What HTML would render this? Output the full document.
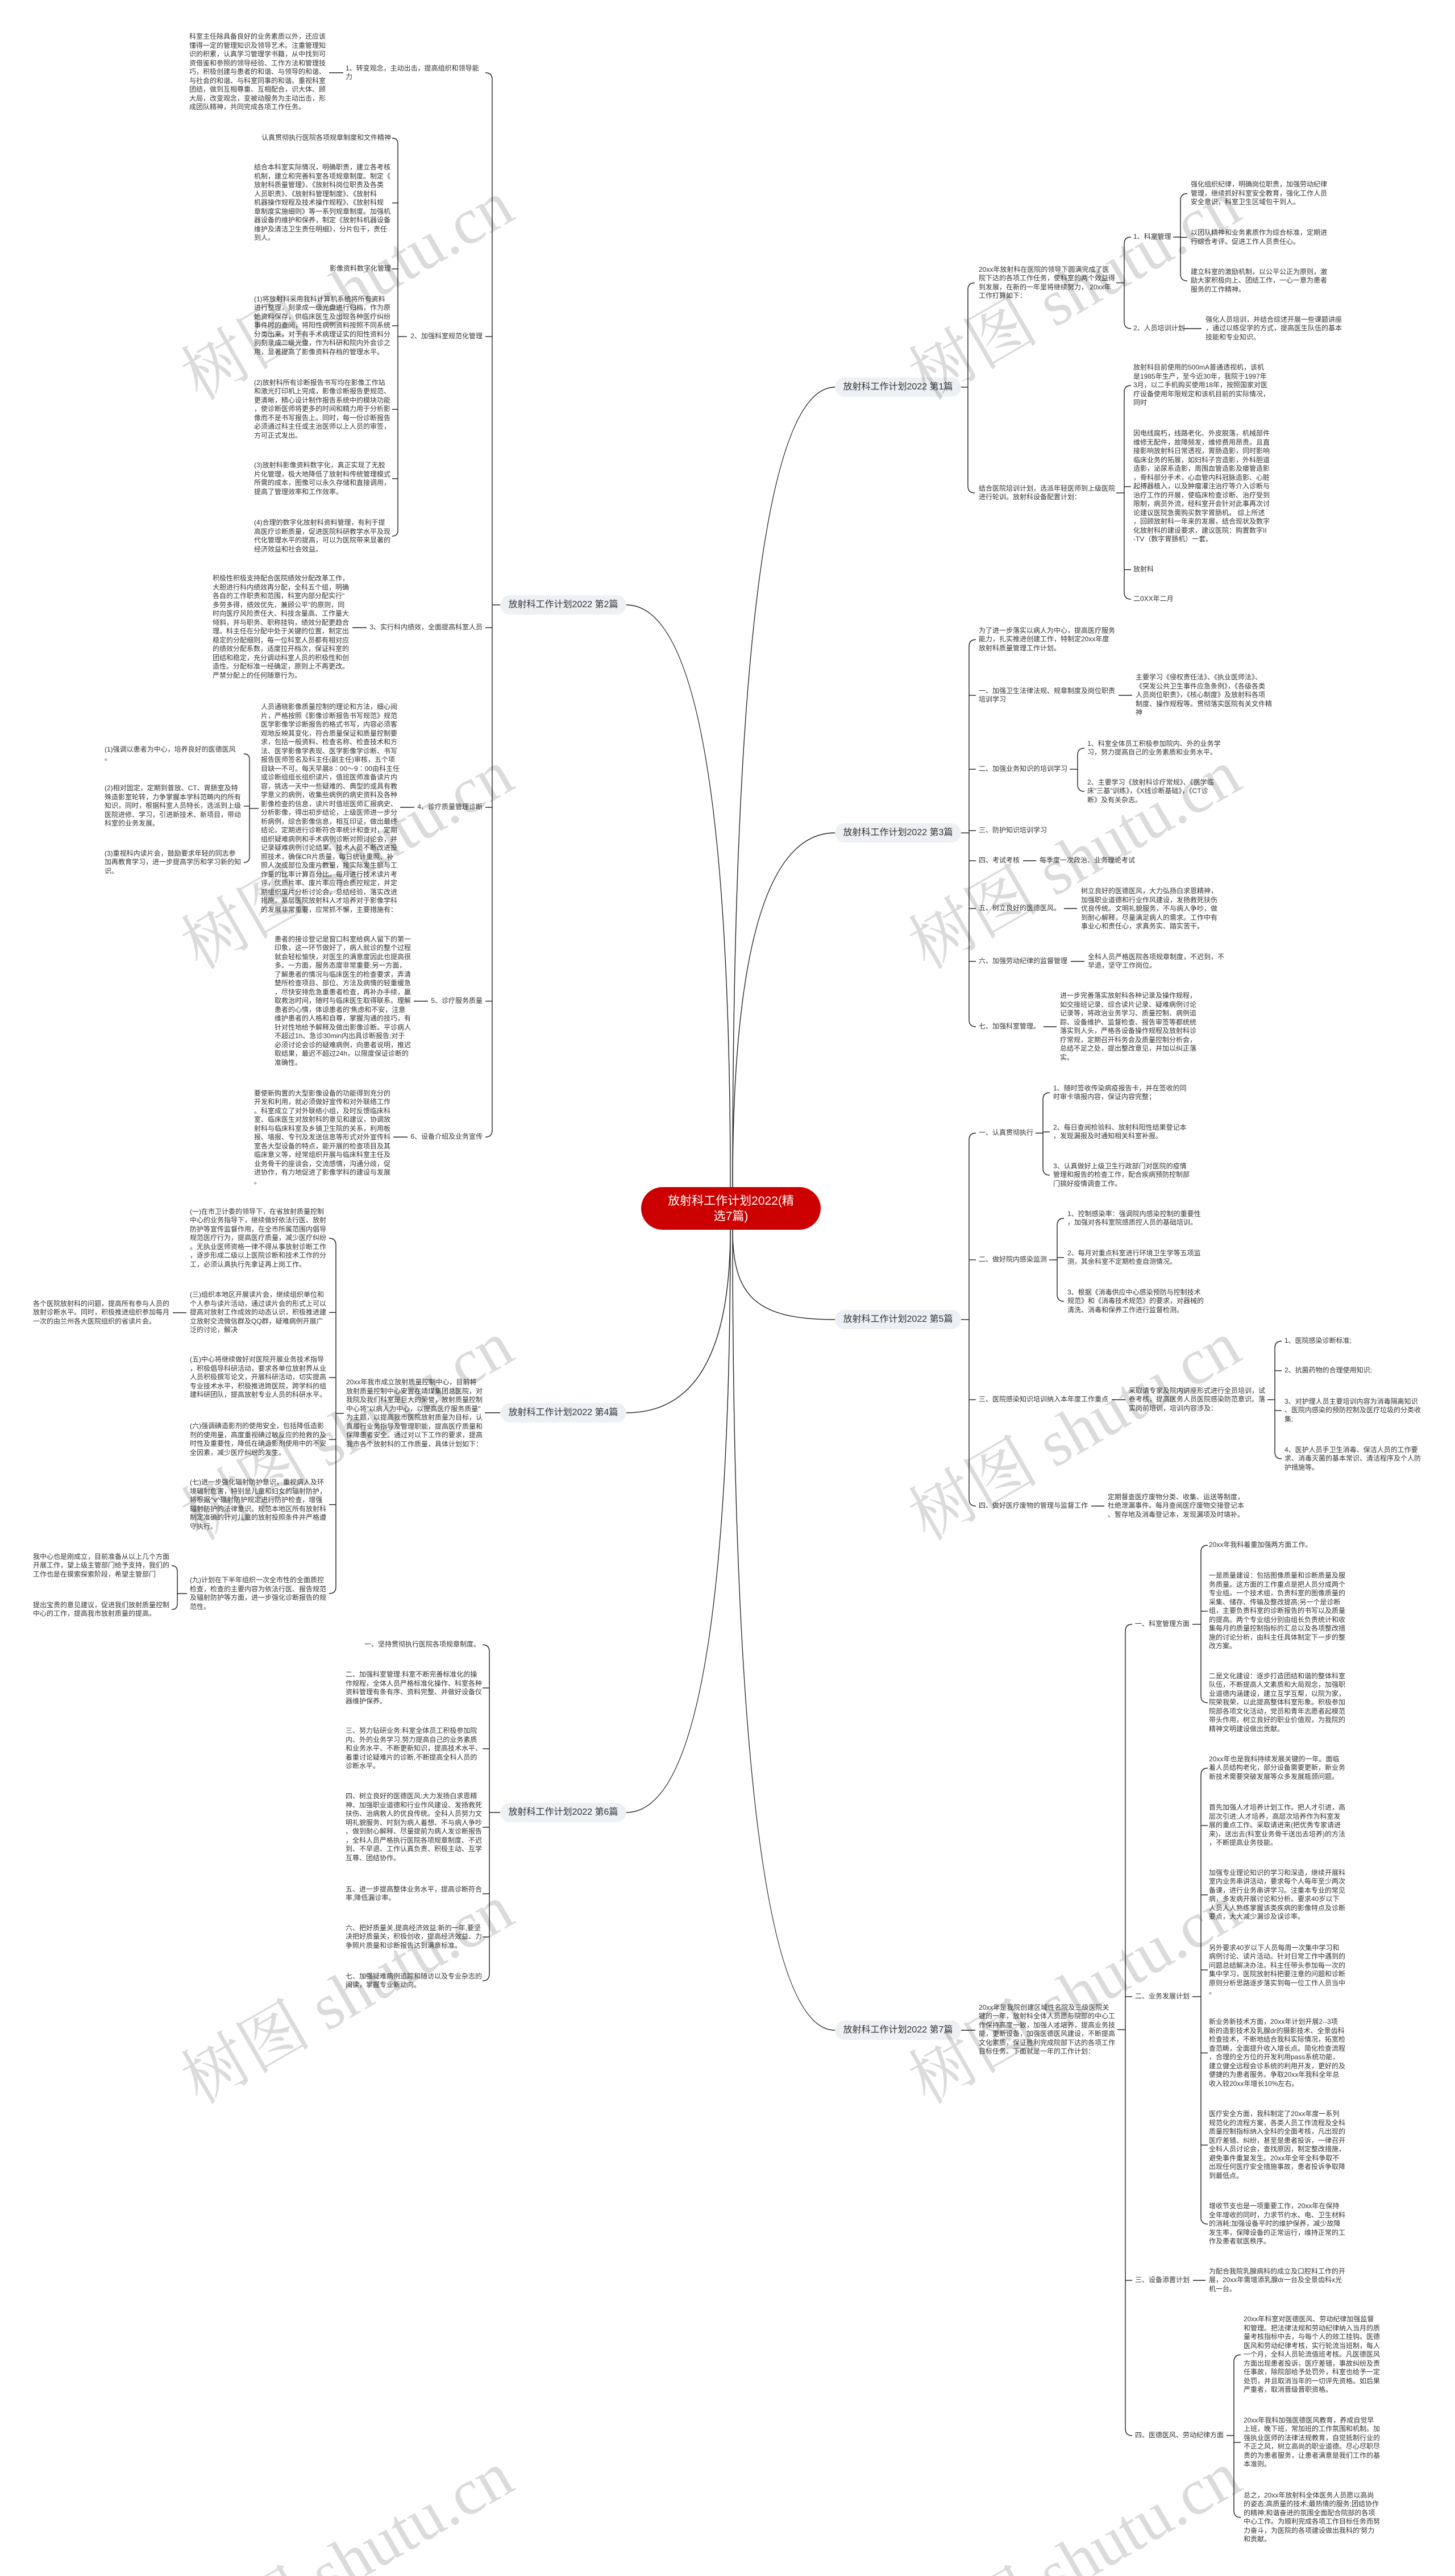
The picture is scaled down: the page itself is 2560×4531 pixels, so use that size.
<!DOCTYPE html>
<html><head><meta charset="utf-8"><style>
body{margin:0;background:#fff}
#c{position:relative;width:2560px;height:4531px;overflow:hidden;background:#fff;font-family:"Liberation Sans","Noto Sans CJK SC",sans-serif;color:#333}
.t{position:absolute;font-size:12px;line-height:15.5px;white-space:nowrap;color:#333}
.r{text-align:right}
.n{position:absolute;width:222px;height:34px;line-height:34px;border-radius:17px;background:#edf0f4;font-size:16px;text-align:center;white-space:nowrap;color:#333}
.root{position:absolute;left:1128px;top:2088px;width:316px;height:75px;border-radius:38px;background:#cc0000;color:#fff;font-size:21px;line-height:27px;text-align:center;display:flex;align-items:center;justify-content:center}
svg{position:absolute;left:0;top:0}
</style></head><body><div id="c">
<svg width="2560" height="4531" viewBox="0 0 2560 4531" fill="none" stroke="#222" stroke-width="1.4">
<!-- trunks -->
<path d="M1289 2088 Q1289 681 1469 681"/>
<path d="M1285 2088 Q1285 1064 1102 1064"/>
<path d="M1289 2088 Q1289 1465 1469 1465"/>
<path d="M1285 2163 Q1285 2485 1102 2485"/>
<path d="M1289 2163 C1289 2280 1330 2321 1469 2321"/>
<path d="M1285 2163 Q1285 3188 1102 3188"/>
<path d="M1289 2163 Q1289 3571 1469 3571"/>
<!-- 第1篇 -->
<path d="M1691 681 H1703"/>
<path d="M1715 497.5 Q1703 497.5 1703 509.5 V855 Q1703 867 1715 867"/>
<path d="M1964 497.5 H1978"/>
<path d="M1990 417 Q1978 417 1978 429 V566 Q1978 578 1990 578"/>
<path d="M2064 417 H2077"/>
<path d="M2089 340.5 Q2077 340.5 2077 352.5 V482 Q2077 494 2089 494"/>
<path d="M2077 417.5 H2089"/>
<path d="M2082 578 H2114"/>
<path d="M1964 867 H1978"/>
<path d="M1990 678 Q1978 678 1978 690 V1042 Q1978 1054 1990 1054"/>
<path d="M1978 856 H1990"/><path d="M1978 1002 H1990"/>
<!-- 第3篇 -->
<path d="M1691 1465 H1705"/>
<path d="M1717 1125 Q1705 1125 1705 1137 V1794 Q1705 1806 1717 1806"/>
<path d="M1705 1223 H1717"/><path d="M1705 1353 H1717"/><path d="M1705 1461 H1717"/><path d="M1705 1514 H1717"/><path d="M1705 1598 H1717"/><path d="M1705 1691 H1717"/>
<path d="M1968 1223 H1992"/>
<path d="M1882 1353 H1896"/>
<path d="M1908 1316 Q1896 1316 1896 1328 V1380 Q1896 1392 1908 1392"/>
<path d="M1800 1514 H1823"/>
<path d="M1872 1598 H1895"/>
<path d="M1884 1691 H1908"/>
<path d="M1836 1806 H1859"/>
<!-- 第5篇 -->
<path d="M1691 2321 H1705"/>
<path d="M1717 1993 Q1705 1993 1705 2005 V2637 Q1705 2649 1717 2649"/>
<path d="M1705 2216 H1717"/><path d="M1705 2462 H1717"/>
<path d="M1822 1993 H1835"/>
<path d="M1847 1922 Q1835 1922 1835 1934 V2055 Q1835 2067 1847 2067"/>
<path d="M1835 1991 H1847"/>
<path d="M1846 2216 H1860"/>
<path d="M1872 2143 Q1860 2143 1860 2155 V2277 Q1860 2289 1872 2289"/>
<path d="M1860 2212 H1872"/>
<path d="M1956 2462 H1980"/>
<path d="M2230 2462 H2243"/>
<path d="M2255 2359 Q2243 2359 2243 2371 V2554 Q2243 2566 2255 2566"/>
<path d="M2243 2411 H2255"/><path d="M2243 2481 H2255"/>
<path d="M1920 2649 H1943"/>
<!-- 第7篇 -->
<path d="M1691 3571 H1716"/>
<path d="M1966 3570 H1980"/>
<path d="M1992 2857 Q1980 2857 1980 2869 V4272 Q1980 4284 1992 4284"/>
<path d="M1980 3512 H1992"/><path d="M1980 4011 H1992"/>
<path d="M2098 2857 H2113"/>
<path d="M2125 2718 Q2113 2718 2113 2730 V2983 Q2113 2995 2125 2995"/>
<path d="M2113 2834 H2125"/>
<path d="M2098 3512 H2113"/>
<path d="M2125 3110 Q2113 3110 2113 3122 V3900 Q2113 3912 2125 3912"/>
<path d="M2113 3211 H2125"/><path d="M2113 3333 H2125"/><path d="M2113 3465 H2125"/><path d="M2113 3611 H2125"/><path d="M2113 3773 H2125"/>
<path d="M2099 4011 H2121"/>
<path d="M2158 4284 H2171"/>
<path d="M2183 4142 Q2171 4142 2171 4154 V4416 Q2171 4428 2183 4428"/>
<path d="M2171 4296 H2183"/>
<!-- 第2篇 -->
<path d="M880 1064 H866"/>
<path d="M854 128 Q866 128 866 140 V1988 Q866 2000 854 2000"/>
<path d="M866 592 H854"/><path d="M866 1104 H854"/><path d="M866 1420 H854"/><path d="M866 1761 H854"/>
<path d="M604 128 H579"/>
<path d="M716 592 H700"/>
<path d="M690 243 Q700 243 700 253 V933 Q700 943 690 943"/>
<path d="M700 357 H690"/><path d="M700 473 H690"/><path d="M700 573 H690"/><path d="M700 720 H690"/><path d="M700 842 H690"/>
<path d="M645 1104 H620"/>
<path d="M729 1420 H704"/>
<path d="M455 1422 H439"/>
<path d="M429 1326 Q439 1326 439 1336 V1507 Q439 1517 429 1517"/>
<path d="M439 1418 H429"/>
<path d="M753 1761 H728"/>
<path d="M717 2000 H692"/>
<!-- 第4篇 -->
<path d="M880 2485 H853"/>
<path d="M605 2486 H591"/>
<path d="M579 2178 Q591 2178 591 2190 V2791 Q591 2803 579 2803"/>
<path d="M591 2308.5 H579"/><path d="M591 2423 H579"/><path d="M591 2532 H579"/><path d="M591 2646.5 H579"/>
<path d="M328 2309 H304"/>
<path d="M329 2803 H312"/>
<path d="M302 2754 Q312 2754 312 2764 V2821 Q312 2831 302 2831"/>
<!-- 第6篇 -->
<path d="M880 3188 H861"/>
<path d="M849 2893 Q861 2893 861 2905 V3472 Q861 3484 849 3484"/>
<path d="M861 2969 H849"/><path d="M861 3076 H849"/><path d="M861 3214 H849"/><path d="M861 3331 H849"/><path d="M861 3407 H849"/>
</svg>

<div class="root"><div>放射科工作计划2022(精<br>选7篇)</div></div>

<div class="n" style="left:1469px;top:664px">放射科工作计划2022 第1篇</div>
<div class="n" style="left:880px;top:1047px">放射科工作计划2022 第2篇</div>
<div class="n" style="left:1469px;top:1448px">放射科工作计划2022 第3篇</div>
<div class="n" style="left:880px;top:2468px">放射科工作计划2022 第4篇</div>
<div class="n" style="left:1469px;top:2304px">放射科工作计划2022 第5篇</div>
<div class="n" style="left:880px;top:3171px">放射科工作计划2022 第6篇</div>
<div class="n" style="left:1469px;top:3554px">放射科工作计划2022 第7篇</div>

<!-- 第1篇 -->
<div class="t" style="left:1722px;top:466.5px">20xx年放射科在医院的领导下圆满完成了医<br>院下达的各项工作任务，使科室的两个效益得<br>到发展，在新的一年里将继续努力， 20xx年<br>工作打算如下：</div>
<div class="t" style="left:1994px;top:409.25px">1、科室管理</div>
<div class="t" style="left:1994px;top:570.25px">2、人员培训计划</div>
<div class="t" style="left:2095px;top:317.25px">强化组织纪律，明确岗位职责，加强劳动纪律<br>管理，继续抓好科室安全教育，强化工作人员<br>安全意识，科室卫生区域包干到人。</div>
<div class="t" style="left:2095px;top:402px">以团队精神和业务素质作为综合标准，定期进<br>行综合考评。促进工作人员责任心。</div>
<div class="t" style="left:2095px;top:470.75px">建立科室的激励机制，以公平公正为原则，激<br>励大家积极向上、团结工作，一心一意为患者<br>服务的工作精神。</div>
<div class="t" style="left:2121px;top:554.75px">强化人员培训，并结合综述开展一些课题讲座<br>，通过以练促学的方式，提高医生队伍的基本<br>技能和专业知识。</div>
<div class="t" style="left:1722px;top:851.5px">结合医院培训计划，选派年轻医师到上级医院<br>进行轮训。放射科设备配置计划：</div>
<div class="t" style="left:1994px;top:639.25px">放射科目前使用的500mA普通透视机，该机<br>是1985年生产，至今近30年，我院于1997年<br>3月，以二手机购买使用18年，按照国家对医<br>疗设备使用年限规定和该机目前的实际情况，<br>同时</div>
<div class="t" style="left:1994px;top:755.25px">因电线腐朽，线路老化、外皮脱落，机械部件<br>维修无配件，故障频发，维修费用昂贵。且直<br>接影响放射科日常透视，胃肠造影，同时影响<br>临床业务的拓展，如妇科子宫造影，外科胆道<br>造影，泌尿系造影，周围血管造影及瘘管造影<br>，骨科部分手术，心血管内科冠脉造影、心脏<br>起搏器植入，以及肿瘤灌注治疗等介入诊断与<br>治疗工作的开展，使临床检查诊断、治疗受到<br>限制，病员外流，经科室开会针对此事再次讨<br>论建议医院急需购买数字胃肠机。 综上所述<br>，回顾放射科一年来的发展，结合现状及数字<br>化放射科的建设要求，建议医院：购置数字II<br>-TV（数字胃肠机）一套。</div>
<div class="t" style="left:1994px;top:994.25px">放射科</div>
<div class="t" style="left:1994px;top:1046.25px">二0XX年二月</div>

<!-- 第3篇 -->
<div class="t" style="left:1722px;top:1101.75px">为了进一步落实以病人为中心，提高医疗服务<br>能力，扎实推进创建工作，特制定20xx年度<br>放射科质量管理工作计划。</div>
<div class="t" style="left:1722px;top:1207.5px">一、加强卫生法律法规、规章制度及岗位职责<br>培训学习</div>
<div class="t" style="left:1998px;top:1184.25px">主要学习《侵权责任法》、《执业医师法》、<br>《突发公共卫生事件应急条例》，《各级各类<br>人员岗位职责》，《核心制度》及放射科各项<br>制度、操作规程等。贯彻落实医院有关文件精<br>神</div>
<div class="t" style="left:1722px;top:1345.25px">二、加强业务知识的培训学习</div>
<div class="t" style="left:1913px;top:1300.5px">1、科室全体员工积极参加院内、外的业务学<br>习，努力提高自己的业务素质和业务水平。</div>
<div class="t" style="left:1913px;top:1368.75px">2、主要学习《放射科诊疗常规》、《医学临<br>床"三基"训练》，《X线诊断基础》，《CT诊<br>断》及有关杂志。</div>
<div class="t" style="left:1722px;top:1453.25px">三、防护知识培训学习</div>
<div class="t" style="left:1722px;top:1506.25px">四、考试考核</div>
<div class="t" style="left:1829px;top:1506.25px">每季度一次政治、业务理论考试</div>
<div class="t" style="left:1722px;top:1590.25px">五、树立良好的医德医风。</div>
<div class="t" style="left:1902px;top:1560.25px">树立良好的医德医风，大力弘扬白求恩精神，<br>加强职业道德和行业作风建设，发扬救死扶伤<br>优良传统。文明礼貌服务，不与病人争吵，做<br>到耐心解释，尽量满足病人的需求。工作中有<br>事业心和责任心，求真务实、踏实苦干。</div>
<div class="t" style="left:1722px;top:1683.25px">六、加强劳动纪律的监督管理</div>
<div class="t" style="left:1914px;top:1675.5px">全科人员严格医院各项规章制度，不迟到，不<br>早退，坚守工作岗位。</div>
<div class="t" style="left:1722px;top:1798.25px">七、加强科室管理。</div>
<div class="t" style="left:1865px;top:1744px">进一步完善落实放射科各种记录及操作规程，<br>如交接班记录、综合读片记录、疑难病例讨论<br>记录等，将政治业务学习、质量控制、病例追<br>踪、设备维护、监督检查、报告审签等都统统<br>落实到人头，严格各设备操作规程及放射科诊<br>疗常规，定期召开科务会及质量控制分析会，<br>总结不足之处，提出整改意见，并加以纠正落<br>实。</div>

<!-- 第5篇 -->
<div class="t" style="left:1722px;top:1985.25px">一、认真贯彻执行</div>
<div class="t" style="left:1853px;top:1906.5px">1、随时签收传染病疫报告卡，并在签收的同<br>时审卡填报内容，保证内容完整；</div>
<div class="t" style="left:1853px;top:1975.5px">2、每日查阅检验科、放射科阳性结果登记本<br>，发现漏报及时通知相关科室补报。</div>
<div class="t" style="left:1853px;top:2043.75px">3、认真做好上级卫生行政部门对医院的疫情<br>管理和报告的检查工作，配合疾病预防控制部<br>门搞好疫情调查工作。</div>
<div class="t" style="left:1722px;top:2208.25px">二、做好院内感染监测</div>
<div class="t" style="left:1878px;top:2127.5px">1、控制感染率：强调院内感染控制的重要性<br>，加强对各科室院感质控人员的基础培训。</div>
<div class="t" style="left:1878px;top:2196.5px">2、每月对重点科室进行环境卫生学等五项监<br>测，其余科室不定期检查自测情况。</div>
<div class="t" style="left:1878px;top:2265.75px">3、根据《消毒供应中心感染预防与控制技术<br>规范》和《消毒技术规范》的要求，对器械的<br>清洗、消毒和保养工作进行监督检测。</div>
<div class="t" style="left:1722px;top:2454.25px">三、医院感染知识培训纳入本年度工作重点</div>
<div class="t" style="left:1986px;top:2438.75px">采取请专家及院内讲座形式进行全员培训，试<br>卷考核，提高医务人员医院感染防范意识。落<br>实岗前培训，培训内容涉及：</div>
<div class="t" style="left:2260px;top:2351.25px">1、医院感染诊断标准;</div>
<div class="t" style="left:2260px;top:2403.25px">2、抗菌药物的合理使用知识;</div>
<div class="t" style="left:2260px;top:2457.75px">3、对护理人员主要培训内容为消毒隔离知识<br>、医院内感染的预防控制及医疗垃圾的分类收<br>集;</div>
<div class="t" style="left:2260px;top:2542.75px">4、医护人员手卫生消毒、保洁人员的工作要<br>求、消毒灭菌的基本常识、清洁程序及个人防<br>护措施等。</div>
<div class="t" style="left:1722px;top:2641.25px">四、做好医疗废物的管理与监督工作</div>
<div class="t" style="left:1949px;top:2625.75px">定期督查医疗废物分类、收集、运送等制度，<br>杜绝泄漏事件。每月查阅医疗废物交接登记本<br>、暂存地及消毒登记本，发现漏项及时填补。</div>

<!-- 第7篇 -->
<div class="t" style="left:1722px;top:3523.5px">20xx年是我院创建区域性名院及三级医院关<br>键的一年，放射科全体人员愿与院部的中心工<br>作保持高度一致，加强人才培养，提高业务技<br>能，更新设备，加强医德医风建设，不断提高<br>文化素质，保证胜利完成院部下达的各项工作<br>目标任务。下面就是一年的工作计划：</div>
<div class="t" style="left:1997px;top:2849.25px">一、科室管理方面</div>
<div class="t" style="left:2127px;top:2710.25px">20xx年我科着重加强两方面工作。</div>
<div class="t" style="left:2127px;top:2764.25px">一是质量建设：包括图像质量和诊断质量及服<br>务质量。这方面的工作重点是把人员分成两个<br>专业组。一个技术组，负责科室的图像质量的<br>采集、储存、传输及整改提高;另一个是诊断<br>组，主要负责科室的诊断报告的书写以及质量<br>的提高。两个专业组分别由组长负责统计和收<br>集每月的质量控制指标的汇总以及各项整改措<br>施的讨论分析，由科主任具体制定下一步的整<br>改方案。</div>
<div class="t" style="left:2127px;top:2940.75px">二是文化建设：逐步打造团结和谐的整体科室<br>队伍，不断提高人文素质和大局观念，加强职<br>业道德内涵建设，建立互学互帮，以院为家，<br>院荣我荣，以此提高整体科室形象。积极参加<br>院部各项文化活动，党员和青年志愿者起模范<br>带头作用，树立良好的职业价值观，为我院的<br>精神文明建设做出贡献。</div>
<div class="t" style="left:1997px;top:3504.25px">二、业务发展计划</div>
<div class="t" style="left:2127px;top:3086.75px">20xx年也是我科持续发展关键的一年。面临<br>着人员结构老化，部分设备需要更新，新业务<br>新技术需要突破发展等众多发展瓶颈问题。</div>
<div class="t" style="left:2127px;top:3172.25px">首先加强人才培养计划工作。把人才引进，高<br>层次引进;人才培养，高层次培养作为科室发<br>展的重点工作。采取请进来(把优秀专家请进<br>来)，送出去(科室业务骨干送出去培养)的方法<br>，不断提高业务技能。</div>
<div class="t" style="left:2127px;top:3286.5px">加强专业理论知识的学习和深造，继续开展科<br>室内业务串讲活动，要求每个人每年至少两次<br>备课，进行业务串讲学习。注重本专业的常见<br>病，多发病开展讨论和分析。要求40岁以下<br>人员人人熟练掌握该类疾病的影像特点及诊断<br>要点，大大减少漏诊及误诊率。</div>
<div class="t" style="left:2127px;top:3418.5px">另外要求40岁以下人员每周一次集中学习和<br>病例讨论、读片活动。针对日常工作中遇到的<br>问题总结解决办法。科主任带头参加每一次的<br>集中学习，医院放射科把要注意的问题和诊断<br>原则分析思路逐步落实到每一位工作人员当中<br>。</div>
<div class="t" style="left:2127px;top:3549px">新业务新技术方面，20xx年计划开展2--3项<br>新的造影技术及乳腺dr的摄影技术、全景齿科<br>检查技术，不断地结合我科实际情况，拓宽检<br>查范畴，全面提升收入增长点。简化检查流程<br>，合理的全方位的开发利用pass系统功能，<br>建立健全远程会诊系统的利用开发，更好的及<br>便捷的为患者服务。争取20xx年我科全年总<br>收入较20xx年增长10%左右。</div>
<div class="t" style="left:2127px;top:3711px">医疗安全方面，我科制定了20xx年度一系列<br>规范化的流程方案，各类人员工作流程及全科<br>质量控制指标纳入全科的全面考核，凡出现的<br>医疗差错、纠纷，甚至是患者投诉，一律召开<br>全科人员讨论会，查找原因，制定整改措施，<br>避免事件重复发生。20xx年全年全科争取不<br>出现任何医疗安全措施事故，患者投诉争取降<br>到最低点。</div>
<div class="t" style="left:2127px;top:3873.25px">增收节支也是一项重要工作，20xx年在保持<br>全年增收的同时，力求节约水、电、卫生材料<br>的消耗;加强设备平时的维护保养，减少故障<br>发生率，保障设备的正常运行，维持正常的工<br>作及患者就医秩序。</div>
<div class="t" style="left:1997px;top:4003.25px">三、设备添置计划</div>
<div class="t" style="left:2127px;top:3987.75px">为配合我院乳腺病科的成立及口腔科工作的开<br>展，20xx年需增添乳腺dr一台及全景齿科x光<br>机一台。</div>
<div class="t" style="left:1997px;top:4276.25px">四、医德医风、劳动纪律方面</div>
<div class="t" style="left:2188px;top:4072.25px">20xx年科室对医德医风、劳动纪律加强监督<br>和管理。把法律法规和劳动纪律纳入当月的质<br>量考核指标中去，与每个人的效工挂钩。医德<br>医风和劳动纪律考核，实行轮流当班制，每人<br>一个月，全科人员轮流值班考核。凡医德医风<br>方面出现患者投诉，医疗差错，事故纠纷及责<br>任事故，除院部给予处罚外，科室也给予一定<br>处罚，并且取消当年的一切评先资格。如后果<br>严重者，取消晋级晋职资格。</div>
<div class="t" style="left:2188px;top:4249.5px">20xx年我科加强医德医风教育，养成自觉早<br>上班，晚下班，常加班的工作氛围和机制。加<br>强执业医师的法律法规教育，自觉抵制行业的<br>不正之风，树立高尚的职业道德。尽心尽职尽<br>责的为患者服务，让患者满意是我们工作的基<br>本准则。</div>
<div class="t" style="left:2188px;top:4381.5px">总之，20xx年放射科全体医务人员愿以高尚<br>的姿态;高质量的技术;最热情的服务;团结协作<br>的精神;和谐奋进的氛围全面配合院部的各项<br>中心工作。为顺利完成各项工作目标任务而努<br>力奋斗，为医院的各项建设做出我科的'努力<br>和贡献。</div>

<!-- 第2篇 -->
<div class="t" style="left:608px;top:112.5px">1、转变观念，主动出击，提高组织和领导能<br>力</div>
<div class="t" style="left:333px;top:57.25px">科室主任除具备良好的业务素质以外，还应该<br>懂得一定的管理知识及领导艺术。注重管理知<br>识的积累，认真学习管理学书籍，从中找到可<br>资借鉴和参照的领导经验、工作方法和管理技<br>巧，积极创建与患者的和谐、与领导的和谐、<br>与社会的和谐、与科室同事的和谐。重视科室<br>团结，做到互相尊重、互相配合，识大体、顾<br>大局，改变观念，变被动服务为主动出击，形<br>成团队精神，共同完成各项工作任务。</div>
<div class="t r" style="right:1711px;top:584.25px">2、加强科室规范化管理</div>
<div class="t r" style="right:1872px;top:235.25px">认真贯彻执行医院各项规章制度和文件精神</div>
<div class="t" style="left:447px;top:287.25px">结合本科室实际情况，明确职责，建立各考核<br>机制，建立和完善科室各项规章制度。制定《<br>放射科质量管理》、《放射科岗位职责及各类<br>人员职责》、《放射科管理制度》、《放射科<br>机器操作规程及技术操作规程》、《放射科规<br>章制度实施细则》等一系列规章制度。加强机<br>器设备的维护和保养，制定《放射科机器设备<br>维护及清洁卫生责任明细》，分片包干，责任<br>到人。</div>
<div class="t r" style="right:1872px;top:465.25px">影像资料数字化管理</div>
<div class="t" style="left:447px;top:518.75px">(1)将放射科采用我科计算机系统将所有资料<br>进行整理，刻录成一级光盘进行归档，作为原<br>始资料保存，供临床医生及出现各种医疗纠纷<br>事件时的查阅，将阳性病例资料按照不同系统<br>分类出来，对于有手术病理证实的阳性资料分<br>别刻录成二级光盘，作为科研和院内外会诊之<br>用，显著提高了影像资料存档的管理水平。</div>
<div class="t" style="left:447px;top:665.75px">(2)放射科所有诊断报告书写均在影像工作站<br>和激光打印机上完成，影像诊断报告更规范、<br>更清晰，精心设计制作报告系统中的模块功能<br>，使诊断医师将更多的时间和精力用于分析影<br>像而不是书写报告上。同时，每一份诊断报告<br>必须通过科主任或主治医师以上人员的审签，<br>方可正式发出。</div>
<div class="t" style="left:447px;top:811px">(3)放射科影像资料数字化，真正实现了无胶<br>片化管理，极大地降低了放射科传统管理模式<br>所需的成本，图像可以永久存储和直接调用，<br>提高了管理效率和工作效率。</div>
<div class="t" style="left:447px;top:912px">(4)合理的数字化放射科资料管理，有利于提<br>高医疗诊断质量，促进医院科研教学水平及现<br>代化管理水平的提高，可以为医院带来显著的<br>经济效益和社会效益。</div>
<div class="t r" style="right:1711px;top:1096.25px">3、实行科内绩效，全面提高科室人员</div>
<div class="t" style="left:374px;top:1010px">积极性积极支持配合医院绩效分配改革工作，<br>大胆进行科内绩效再分配，全科五个组，明确<br>各自的工作职责和范围，科室内部分配实行"<br>多劳多得，绩效优先，兼顾公平"的原则，同<br>时向医疗风险责任大、科技含量高、工作量大<br>倾斜，并与职务、职称挂钩，绩效分配更趋合<br>理。科主任在分配中处于关键的位置，制定出<br>稳定的分配细则，每一位科室人员都有相对应<br>的绩效分配系数，适度拉开档次，保证科室的<br>团结和稳定，充分调动科室人员的积极性和创<br>造性。分配标准一经确定，原则上不再更改。<br>严禁分配上的任何随意行为。</div>
<div class="t r" style="right:1711px;top:1412.25px">4、诊疗质量管理诊断</div>
<div class="t" style="left:459px;top:1236px">人员通晓影像质量控制的理论和方法，细心阅<br>片，严格按照《影像诊断报告书写规范》规范<br>医学影像学诊断报告的格式书写，内容必须客<br>观地反映其变化，符合质量保证和质量控制要<br>求，包括一般资料、检查名称、检查技术和方<br>法、医学影像学表现、医学影像学诊断、书写<br>报告医师签名及科主任(副主任)审核，五个项<br>目缺一不可。每天早晨8∶00～9∶00由科主任<br>或诊断组组长组织读片，值班医师准备读片内<br>容，挑选一天中一些疑难的、典型的或具有教<br>学意义的病例，收集些病例的病史资料及各种<br>影像检查的信息，读片时值班医师汇报病史、<br>分析影像，得出初步结论，上级医师进一步分<br>析病例，综合影像信息，相互印证，做出最终<br>结论。定期进行诊断符合率统计和查对，定期<br>组织疑难病例和手术病例诊断对照讨论会，并<br>记录疑难病例讨论结果。技术人员不断改进投<br>照技术，确保CR片质量，每日统计重照、补<br>照人次或部位及废片数量，按实际发生额与工<br>作量的比率计算百分比。每月进行技术读片考<br>评，优质片率、废片率应符合质控规定，并定<br>期组织废片分析讨论会，总结经验，落实改进<br>措施。基层医院放射科人才培养对于影像学科<br>的发展非常重要，应常抓不懈，主要措施有：</div>
<div class="t" style="left:184px;top:1310.5px">(1)强调以患者为中心，培养良好的医德医风<br>。</div>
<div class="t" style="left:184px;top:1379.25px">(2)相对固定，定期到普放、CT、胃肠室及特<br>殊造影室轮转，力争掌握本学科范畴内的所有<br>知识，同时，根据科室人员特长，选派到上级<br>医院进修、学习，引进新技术、新项目，带动<br>科室的业务发展。</div>
<div class="t" style="left:184px;top:1493.75px">(3)重视科内读片会，鼓励要求年轻的同志参<br>加再教育学习，进一步提高学历和学习新的知<br>识。</div>
<div class="t r" style="right:1711px;top:1753.25px">5、诊疗服务质量</div>
<div class="t" style="left:483px;top:1644.75px">患者的接诊登记是窗口科室给病人留下的第一<br>印象，这一环节做好了，病人就诊的整个过程<br>就会轻松愉快，对医生的满意度因此也提高很<br>多。一方面，服务态度非常重要;另一方面，<br>了解患者的情况与临床医生的检查要求，弄清<br>楚所检查项目、部位、方法及病情的轻重缓急<br>，尽快安排危急重患者检查，再补办手续，赢<br>取救治时间，随时与临床医生取得联系。理解<br>患者的心情，体谅患者的'焦虑和不安，注意<br>维护患者的人格和自尊，掌握沟通的技巧，有<br>针对性地给予解释及做出影像诊断。平诊病人<br>不超过1h、急诊30min内出具诊断报告;对于<br>必须讨论会诊的疑难病例，向患者说明，推迟<br>取结果，最迟不超过24h，以限度保证诊断的<br>准确性。</div>
<div class="t r" style="right:1711px;top:1992.25px">6、设备介绍及业务宣传</div>
<div class="t" style="left:447px;top:1915.75px">要使新购置的大型影像设备的功能得到充分的<br>开发和利用，就必须做好宣传和对外联络工作<br>。科室成立了对外联络小组，及时反馈临床科<br>室、临床医生对放射科的意见和建议，协调放<br>射科与临床科室及乡镇卫生院的关系，利用板<br>报、墙报、专刊及发送信息等形式对外宣传科<br>室各大型设备的特点，能开展的检查项目及其<br>临床意义等，经常组织开展与临床科室主任及<br>业务骨干的座谈会，交流感情，沟通分歧，促<br>进协作，有力地促进了影像学科的建设与发展<br>。</div>

<!-- 第4篇 -->
<div class="t" style="left:609px;top:2424px">20xx年我市成立放射质量控制中心，目前将<br>放射质量控制中心安置在靖煤集团总医院，对<br>我院及我们科室是巨大的荣誉，放射质量控制<br>中心将"以病人为中心，以提高医疗服务质量"<br>为主题，以提高我市医院放射质量为目标，认<br>真履行业务指导及管理职能，提高医疗质量和<br>保障患者安全。通过对以下工作的要求，提高<br>我市各个放射科的工作质量，具体计划如下：</div>
<div class="t" style="left:334px;top:2123.75px">(一)在市卫计委的领导下，在省放射质量控制<br>中心的业务指导下，继续做好依法行医、放射<br>防护等宣传监督作用，在全市所属范围内倡导<br>规范医疗行为，提高医疗质量，减少医疗纠纷<br>。无执业医师资格一律不得从事放射诊断工作<br>，逐步形成二级以上医院诊断和技术工作的分<br>工，必须认真执行先拿证再上岗工作。</div>
<div class="t" style="left:334px;top:2270.25px">(三)组织本地区开展读片会，继续组织单位和<br>个人参与读片活动，通过读片会的形式上可以<br>提高对放射工作成效的动态认识，积极推进建<br>立放射交流微信群及QQ群，疑难病例开展广<br>泛的讨论，解决</div>
<div class="t" style="left:58px;top:2285.75px">各个医院放射科的问题，提高所有参与人员的<br>放射诊断水平。同时，积极推进组织参加每月<br>一次的由兰州各大医院组织的省读片会。</div>
<div class="t" style="left:334px;top:2384.25px">(五)中心将继续做好对医院开展业务技术指导<br>，积极倡导科研活动，要求各单位放射界从业<br>人员积极撰写论文，开展科研活动，切实提高<br>专业技术水平，积极推进跨医院，跨学科的组<br>建科研团队，提高放射专业人员的科研水平。</div>
<div class="t" style="left:334px;top:2501px">(六)强调碘造影剂的使用安全，包括降低造影<br>剂的使用量，高度重视碘过敏反应的抢救的及<br>时性及重要性，降低在碘造影剂使用中的不安<br>全因素，减少医疗纠纷的发生。</div>
<div class="t" style="left:334px;top:2600px">(七)进一步强化辐射防护意识，重视病人及环<br>境辐射危害，特别是儿童和妇女的辐射防护，<br>将根据^v^辐射防护规定进行防护检查，增强<br>辐射防护的法律意识。规范本地区所有放射科<br>制定准确的针对儿童的放射投照条件并严格遵<br>守执行。</div>
<div class="t" style="left:334px;top:2772px">(九)计划在下半年组织一次全市性的全面质控<br>检查，检查的主要内容为依法行医、报告规范<br>及辐射防护等方面，进一步强化诊断报告的规<br>范性。</div>
<div class="t" style="left:58px;top:2730.75px">我中心也是刚成立，目前准备从以上几个方面<br>开展工作，望上级主管部门给予支持，我们的<br>工作也是在摸索探索阶段，希望主管部门</div>
<div class="t" style="left:58px;top:2815.5px">提出宝贵的意见建议，促进我们放射质量控制<br>中心的工作，提高我市放射质量的提高。</div>

<!-- 第6篇 -->
<div class="t r" style="right:1715px;top:2885.25px">一、坚持贯彻执行医院各项规章制度。</div>
<div class="t" style="left:608px;top:2938px">二、加强科室管理:科室不断完善标准化的操<br>作规程，全体人员严格标准化操作、科室各种<br>资料管理有条有序、资料完整、并做好设备仪<br>器维护保养。</div>
<div class="t" style="left:608px;top:3037.25px">三、努力钻研业务:科室全体员工积极参加院<br>内、外的业务学习,努力提高自己的业务素质<br>和业务水平、不断更新知识，提高技术水平、<br>着重讨论疑难片的诊断,不断提高全科人员的<br>诊断水平。</div>
<div class="t" style="left:608px;top:3152px">四、树立良好的医德医风:大力发扬白求恩精<br>神、加强职业道德和行业作风建设、发扬救死<br>扶伤、治病救人的优良传统。全科人员努力文<br>明礼貌服务、时刻为病人着想、不与病人争吵<br>、做到耐心解释、尽量提前为病人发诊断报告<br>，全科人员严格执行医院各项规章制度、不迟<br>到、不早退、工作认真负责、积极主动、互学<br>互尊、团结协作。</div>
<div class="t" style="left:608px;top:3315.5px">五、进一步提高整体业务水平，提高诊断符合<br>率,降低漏诊率。</div>
<div class="t" style="left:608px;top:3383.75px">六、把好质量关,提高经济效益:新的一年,要坚<br>决把好质量关，积极创收，提高经济效益、力<br>争照片质量和诊断报告达到满意标准。</div>
<div class="t" style="left:608px;top:3468.5px">七、加强疑难病例追踪和随访以及专业杂志的<br>阅读，掌握专业新动向。</div>

<svg width="2560" height="4531" viewBox="0 0 2560 4531" style="pointer-events:none">
<g fill="#000" fill-opacity="0.14" font-family="Liberation Serif, Noto Serif CJK SC, serif" font-size="115">
<text x="351" y="706" transform="rotate(-30 351 706)">树图 shutu.cn</text>
<text x="1631" y="706" transform="rotate(-30 1631 706)">树图 shutu.cn</text>
<text x="351" y="1707" transform="rotate(-30 351 1707)">树图 shutu.cn</text>
<text x="1631" y="1707" transform="rotate(-30 1631 1707)">树图 shutu.cn</text>
<text x="351" y="2712" transform="rotate(-30 351 2712)">树图 shutu.cn</text>
<text x="1631" y="2712" transform="rotate(-30 1631 2712)">树图 shutu.cn</text>
<text x="351" y="3703" transform="rotate(-30 351 3703)">树图 shutu.cn</text>
<text x="1631" y="3703" transform="rotate(-30 1631 3703)">树图 shutu.cn</text>
<text x="351" y="4700" transform="rotate(-30 351 4700)">树图 shutu.cn</text>
<text x="1631" y="4700" transform="rotate(-30 1631 4700)">树图 shutu.cn</text>
</g>
</svg>
</div></body></html>
